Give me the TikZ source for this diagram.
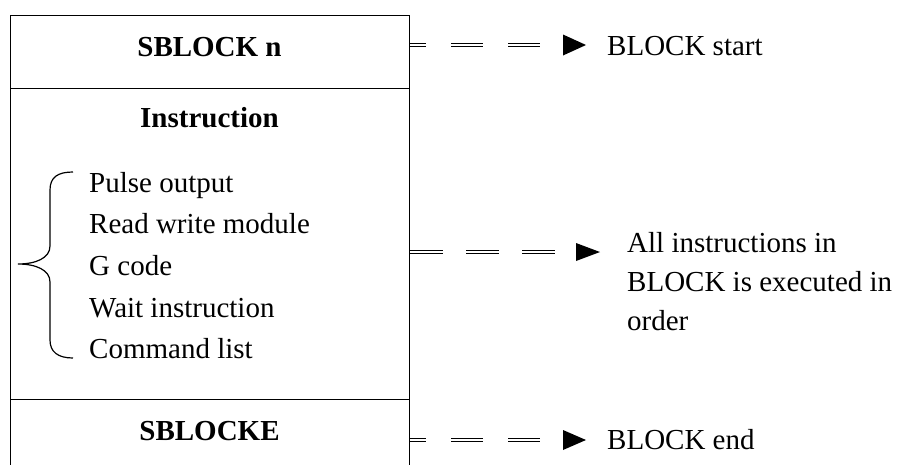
\documentclass[tikz,border=0pt]{standalone}
\usepackage{fontspec}
\setmainfont{Liberation Serif}
\begin{document}
\begin{tikzpicture}[x=1pt,y=-1pt,
  sect/.style={draw, line width=1.4pt, minimum width=399pt, anchor=north west, inner sep=0pt},
  lbl/.style={font=\fontsize{29}{35}\selectfont, inner sep=0pt, anchor=base west},
  hd/.style={font=\fontsize{29}{35}\selectfont\bfseries, inner sep=0pt},
  dbl/.style={double, line width=1.5pt, double distance=1.3pt},
  tipfill/.style={fill=black}
]
\useasboundingbox (0,0) rectangle (898,464);
% box sections
\node[sect, minimum height=73pt] (hdr) at (10,15) {};
\node[sect, minimum height=311pt] (body) at (10,88) {};
\node[sect, minimum height=70pt] (foot) at (10,399) {};
% headings
\node[hd] (t1) at (209.5,47.5) {SBLOCK n};
\node[hd] (t2) at (209.5,118) {Instruction};
\node[hd] (t3) at (209.5,431) {SBLOCKE};
% list
\node[lbl] (l1) at (89,192) {Pulse output};
\node[lbl] (l2) at (89,233) {Read write module};
\node[lbl] (l3) at (89,275) {G code};
\node[lbl] (l4) at (89,317) {Wait instruction};
\node[lbl] (l5) at (89,358) {Command list};
% brace
\draw[line width=1.2pt] (73,172) .. controls (58,172) and (50,177) .. (50,190)
  -- (50,246) .. controls (50,258) and (36,264) .. (18,264)
  .. controls (36,264) and (50,270) .. (50,282)
  -- (50,340) .. controls (50,352) and (58,358) .. (73,358);
% right labels
\node[lbl] (r1) at (607,55) {BLOCK start};
\node[lbl] (r2a) at (627,252) {All instructions in};
\node[lbl] (r2b) at (627,291) {BLOCK is executed in};
\node[lbl] (r2c) at (627,330) {order};
\node[lbl] (r3) at (607,449) {BLOCK end};
% connectors
\coordinate (e1) at (563,45);
\coordinate (e2) at (576,252);
\coordinate (e3) at (563,440);
\draw[dbl, dash pattern=on 32pt off 25pt, dash phase=16pt] (hdr.east |- e1) -- (e1);
\fill[tipfill] (e1) ++(0,-10.5) -- ++(23,10.5) -- ++(-23,10.5) -- cycle;
\draw[dbl, dash pattern=on 33pt off 23pt] (body.east |- e2) -- (e2);
\fill[tipfill] (e2) ++(0,-9) -- ++(24,9) -- ++(-24,9) -- cycle;
\draw[dbl, dash pattern=on 32pt off 25pt, dash phase=16pt] (foot.east |- e3) -- (e3);
\fill[tipfill] (e3) ++(0,-10) -- ++(23,10) -- ++(-23,10) -- cycle;
\end{tikzpicture}
\end{document}
